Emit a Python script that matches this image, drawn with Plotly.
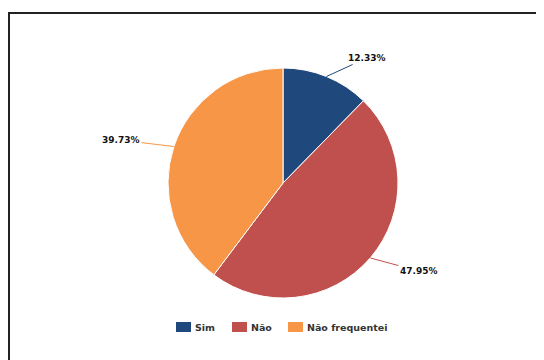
import math
import plotly.graph_objects as go

labels = ["Sim", "Não", "Não frequentei"]
values = [12.33, 47.95, 39.73]
colors = ["#1F497D", "#C0504D", "#F79646"]
label_text = ["12.33%", "47.95%", "39.73%"]

W, H = 544, 360
OFF = 8  # page body margin
cx, cy, R = 283 - OFF, 183 - OFF, 115
legend_x = [176, 232, 288]  # left edge of each legend swatch (page px)
legend_y = 327

fig = go.Figure(go.Pie(
    labels=labels, values=values, sort=False, direction="clockwise", rotation=0,
    marker=dict(colors=colors, line=dict(color="white", width=1)),
    textinfo="none", hoverinfo="label+percent", showlegend=False,
    domain=dict(x=[(cx - R) / W, (cx + R) / W], y=[1 - (cy + R) / H, 1 - (cy - R) / H]),
))

total = sum(values)
cum = 0
annotations = []
shapes = []
for v, t, c in zip(values, label_text, colors):
    mid = (cum + v / 2) / total * 2 * math.pi
    cum += v
    s, co = math.sin(mid), math.cos(mid)
    tipx = (cx + R * s) / W
    tipy = 1 - (cy - R * co) / H
    side = 1 if s >= 0 else -1
    annotations.append(dict(
        x=tipx, y=tipy, xref="paper", yref="paper",
        text="<b>" + t + "</b>", showarrow=True, arrowhead=0, arrowwidth=1,
        arrowcolor=c, ax=s * 22 + side * 32, ay=-co * 20,
        font=dict(family="DejaVu Sans", size=9, color="#111111"),
    ))

# custom legend
for lab, c, lx in zip(labels, colors, legend_x):
    x0 = (lx - OFF) / W
    x1 = (lx - OFF + 15) / W
    yc = 1 - (legend_y - OFF) / H
    shapes.append(dict(type="rect", xref="paper", yref="paper", x0=x0, x1=x1,
                       y0=yc - 5 / H, y1=yc + 5 / H, fillcolor=c, line=dict(width=0)))
    annotations.append(dict(
        x=(lx - OFF + 17) / W, y=yc, xref="paper", yref="paper", xanchor="left",
        yanchor="middle", showarrow=False, text="<b>" + lab + "</b>",
        font=dict(family="DejaVu Sans", size=9.5, color="#333333"),
    ))

shapes.append(dict(type="rect", xref="paper", yref="paper", x0=1 / W, x1=1.02,
                   y0=-0.02, y1=1 - 5 / H, line=dict(color="#222222", width=2)))

fig.update_layout(
    width=W, height=H, margin=dict(l=0, r=0, t=0, b=0),
    paper_bgcolor="white", plot_bgcolor="white",
    font=dict(family="DejaVu Sans", size=9, color="#333333"),
    showlegend=False,
    annotations=annotations,
    shapes=shapes,
)

fig.write_html("out.html")
